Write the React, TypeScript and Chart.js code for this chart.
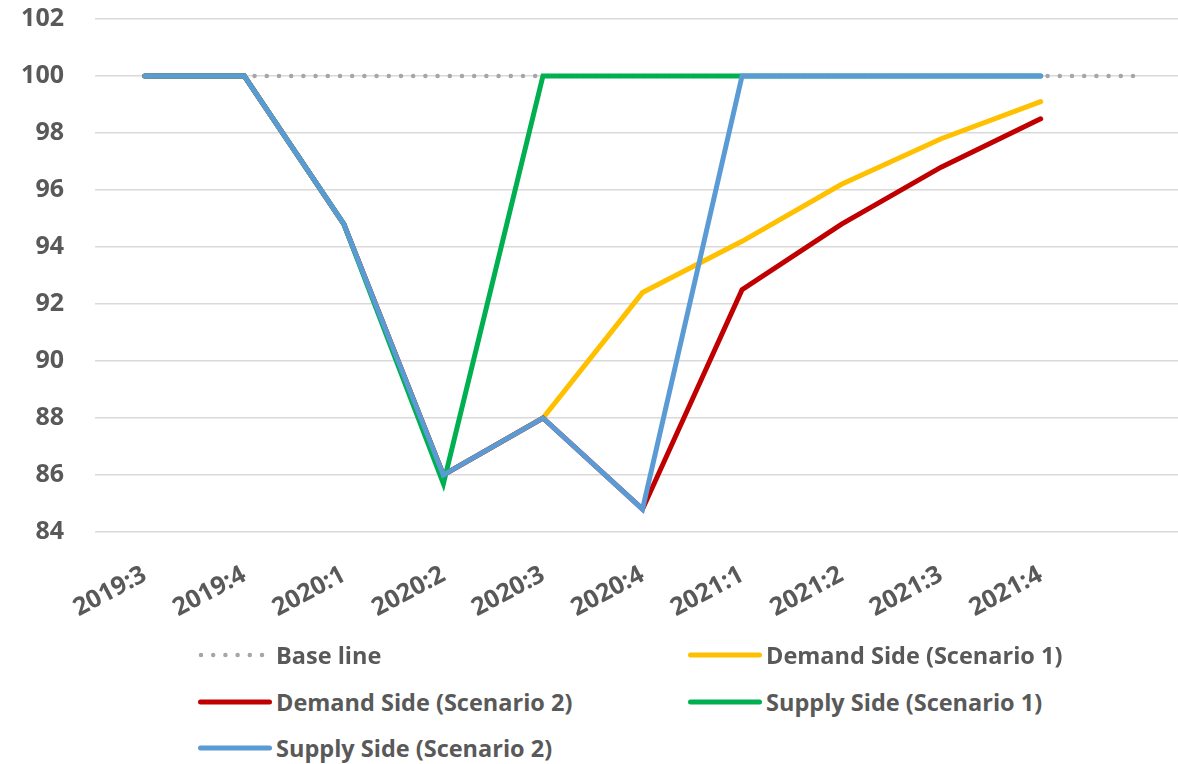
import React, { useEffect, useRef } from "react";
import { Chart, registerables } from "chart.js";

Chart.register(...registerables);

const categories = ["2019:3", "2019:4", "2020:1", "2020:2", "2020:3", "2020:4", "2021:1", "2021:2", "2021:3", "2021:4", ""];
const baseLine = [100, 100, 100, 100, 100, 100, 100, 100, 100, 100, 100];
const demandS1 = [100, 100, 94.8, 86, 88, 92.4, 94.2, 96.2, 97.8, 99.1, null];
const demandS2 = [100, 100, 94.8, 86, 88, 84.8, 92.5, 94.8, 96.8, 98.5, null];
const supplyS1 = [100, 100, 94.8, 85.7, 100, 100, 100, 100, 100, 100, null];
const supplyS2 = [100, 100, 94.8, 86, 88, 84.8, 100, 100, 100, 100, null];

const FONT = "'Open Sans', sans-serif";
const TEXT = "#595959";

const legendItems = [
  { label: "Base line", color: "#A6A6A6", dotted: true, x: 198, y: 655 },
  { label: "Demand Side (Scenario 1)", color: "#FFC000", dotted: false, x: 688, y: 655 },
  { label: "Demand Side (Scenario 2)", color: "#C00000", dotted: false, x: 198, y: 702 },
  { label: "Supply Side (Scenario 1)", color: "#00B050", dotted: false, x: 688, y: 702 },
  { label: "Supply Side (Scenario 2)", color: "#5B9BD5", dotted: false, x: 198, y: 748 },
];

// canvas is shifted up so that the plot area spans y = 19..532 on the page
const CANVAS_TOP = -27;
const CANVAS_H = 679;

export default function App() {
  const ref = useRef<HTMLCanvasElement>(null);
  useEffect(() => {
    if (!ref.current) return;
    const line = (label: string, data: any[], color: string, order: number) => ({
      label,
      data,
      borderColor: color,
      backgroundColor: color,
      borderWidth: 5,
      pointRadius: 0,
      borderCapStyle: "round" as const,
      tension: 0,
      order,
      spanGaps: false,
    });
    const chart = new Chart(ref.current, {
      type: "line",
      data: {
        labels: categories,
        datasets: [
          {
            ...line("Base line", baseLine, "#A6A6A6", 5),
            borderWidth: 4.5,
            borderDash: [0, 12.2],
          },
          line("Demand Side (Scenario 1)", demandS1, "#FFC000", 4),
          line("Demand Side (Scenario 2)", demandS2, "#C00000", 3),
          line("Supply Side (Scenario 1)", supplyS1, "#00B050", 2),
          line("Supply Side (Scenario 2)", supplyS2, "#5B9BD5", 1),
        ],
      },
      options: {
        animation: false,
        responsive: false,
        maintainAspectRatio: false,
        layout: { padding: 0 },
        plugins: { legend: { display: false }, tooltip: { enabled: false } },
        scales: {
          x: {
            offset: true,
            grid: { display: false, drawTicks: false },
            border: { display: false },
            ticks: {
              autoSkip: false,
              minRotation: 28,
              maxRotation: 28,
              padding: 28,
              color: TEXT,
              font: { family: FONT, size: 25, weight: "bold" },
            },
            afterFit: (s: any) => {
              s.height = 120;
            },
          },
          y: {
            min: 84,
            max: 102,
            ticks: {
              stepSize: 2,
              padding: 31,
              color: TEXT,
              font: { family: FONT, size: 25, weight: "bold" },
            },
            grid: { color: "#D9D9D9", lineWidth: 1.5, drawTicks: false },
            border: { display: false },
            afterFit: (s: any) => {
              s.width = 95;
            },
          },
        },
      },
    });
    return () => chart.destroy();
  }, []);

  return (
    <div style={{ position: "fixed", left: 0, top: 0, width: 1178, height: 764, overflow: "hidden", background: "#fff" }}>
      <canvas ref={ref} width={1190} height={CANVAS_H} style={{ position: "absolute", left: 0, top: CANVAS_TOP, width: 1190, height: CANVAS_H }} />
      {legendItems.map((it) => (
        <div key={it.label} style={{ position: "absolute", left: it.x, top: it.y - 16, height: 32, display: "flex", alignItems: "center" }}>
          <svg width={74} height={10} style={{ display: "block" }}>
            {it.dotted ? (
              <line x1={3} y1={5} x2={72} y2={5} stroke={it.color} strokeWidth={4.5} strokeLinecap="round" strokeDasharray="0 12.2" />
            ) : (
              <line x1={2.5} y1={5} x2={71.5} y2={5} stroke={it.color} strokeWidth={5} strokeLinecap="round" />
            )}
          </svg>
          <span style={{ marginLeft: 4, fontFamily: FONT, fontWeight: 700, fontSize: 23.5, lineHeight: "32px", color: TEXT, whiteSpace: "nowrap" }}>{it.label}</span>
        </div>
      ))}
    </div>
  );
}
